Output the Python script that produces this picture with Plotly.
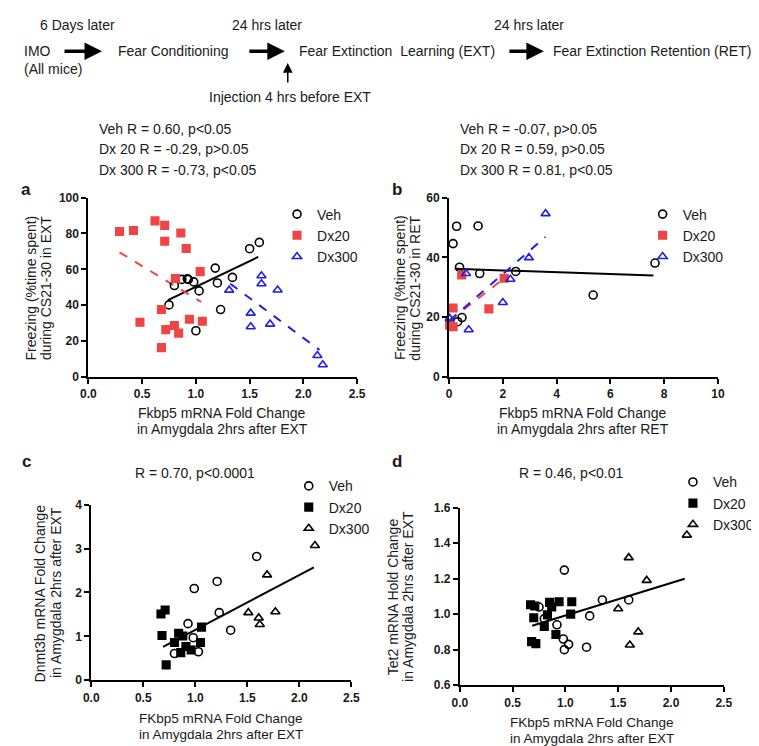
import plotly.graph_objects as go

W, H = 759, 746

# ---------------- data ----------------
# Panel a (EXT)
a_veh_x = [0.75, 0.80, 0.87, 0.92, 0.93, 0.98, 1.03, 1.00, 1.18, 1.20, 1.23, 1.34, 1.50, 1.59]
a_veh_y = [40.2, 51.0, 54.4, 54.7, 54.4, 53.0, 48.0, 25.8, 60.7, 52.4, 37.6, 55.5, 71.5, 75.0]
a_veh_fit_x = [0.74, 1.58]
a_veh_fit_y = [42.9, 66.9]
a_dx20_x = [0.29, 0.42, 0.62, 0.71, 0.71, 0.86, 0.91, 1.04, 0.81, 0.68, 0.48, 0.72, 0.80, 0.84, 0.94, 1.06, 0.68]
a_dx20_y = [81.1, 81.6, 87.0, 84.5, 75.6, 80.2, 71.6, 58.7, 54.9, 37.6, 30.5, 26.4, 28.7, 24.5, 32.2, 31.1, 16.4]
a_dx20_fit_x = [0.29, 1.05]
a_dx20_fit_y = [69.5, 41.8]
a_dx300_x = [1.31, 1.51, 1.51, 1.61, 1.61, 1.69, 1.76, 2.13, 2.18]
a_dx300_y = [48.4, 35.6, 28.0, 56.4, 52.0, 29.5, 48.5, 12.0, 6.9]
a_dx300_fit_x = [1.32, 2.15]
a_dx300_fit_y = [52.0, 15.1]

# Panel b (RET)
b_veh_x = [0.15, 0.28, 1.08, 0.39, 1.14, 2.48, 0.32, 0.48, 5.36, 7.66]
b_veh_y = [44.6, 50.4, 50.5, 36.7, 34.6, 35.3, 18.5, 19.9, 27.4, 38.1]
b_veh_fit_x = [0.21, 7.6]
b_veh_fit_y = [36.2, 33.9]
b_dx20_x = [0.15, 0.02, 0.15, 0.47, 1.48, 2.05]
b_dx20_y = [23.1, 17.3, 16.8, 34.1, 22.8, 33.0]
b_dx20_fit_x = [0.02, 2.15]
b_dx20_fit_y = [18.9, 33.7]
b_dx300_x = [0.02, 0.63, 0.73, 2.00, 2.28, 2.97, 3.59]
b_dx300_y = [19.6, 34.6, 15.8, 24.9, 32.7, 39.9, 54.6]
b_dx300_fit_x = [0.02, 3.58]
b_dx300_fit_y = [18.9, 46.8]

# Panel c (Dnmt3b)
c_veh_x = [0.80, 0.93, 0.99, 0.98, 1.03, 1.21, 1.23, 1.34, 1.59]
c_veh_y = [0.61, 1.29, 2.09, 0.97, 0.65, 2.25, 1.54, 1.14, 2.82]
c_dx20_x = [0.67, 0.71, 0.68, 0.72, 0.80, 0.84, 0.88, 0.86, 0.91, 0.96, 1.06, 1.05]
c_dx20_y = [1.51, 1.60, 1.02, 0.35, 0.86, 1.07, 1.01, 0.63, 0.77, 0.69, 1.21, 0.86]
c_dx300_x = [1.51, 1.61, 1.62, 1.69, 1.77, 2.15]
c_dx300_y = [1.54, 1.42, 1.27, 2.40, 1.56, 3.07]
c_fit_x = [0.69, 2.14]
c_fit_y = [0.76, 2.57]

# Panel d (Tet2)
d_veh_x = [0.75, 0.80, 0.92, 0.99, 0.98, 0.99, 1.03, 1.20, 1.23, 1.35, 1.60]
d_veh_y = [1.04, 0.974, 0.94, 1.248, 0.86, 0.80, 0.83, 0.814, 0.99, 1.08, 1.08]
d_dx20_x = [0.67, 0.71, 0.70, 0.68, 0.72, 0.80, 0.83, 0.85, 0.87, 0.91, 0.94, 1.06, 1.05]
d_dx20_y = [1.053, 1.046, 0.98, 0.845, 0.834, 0.93, 0.996, 1.066, 1.04, 0.885, 1.07, 1.07, 1.00]
d_dx300_x = [1.50, 1.60, 1.61, 1.69, 1.77, 2.15]
d_dx300_y = [1.03, 1.318, 0.826, 0.90, 1.19, 1.445]
d_fit_x = [0.685, 2.13]
d_fit_y = [0.935, 1.199]

x_ticks_ext = [0, 0.5, 1.0, 1.5, 2.0, 2.5]
x_ticktext_ext = ["0.0", "0.5", "1.0", "1.5", "2.0", "2.5"]
x_ticks_ret = [0, 2, 4, 6, 8, 10]
ya_ticks = [0, 20, 40, 60, 80, 100]
yb_ticks = [0, 20, 40, 60]
yc_ticks = [0, 1, 2, 3, 4]
yd_ticks = [0.6, 0.8, 1.0, 1.2, 1.4, 1.6]
yd_ticktext = ["0.6", "0.8", "1.0", "1.2", "1.4", "1.6"]
group_names = ["Veh", "Dx20", "Dx300"]

# ---------------- styling ----------------
FONT = "Arial, Liberation Sans, Helvetica, sans-serif"
TXT = "#1a1a1a"
RED = "#f04545"
BLUE = "#1f1fe6"


def px(x):
    return x / W


def py(y):
    return 1 - y / H


fig = go.Figure()


def add_points(x, y, xa, ya, symbol, color, name, legend, filled=False):
    fig.add_trace(go.Scatter(
        x=x, y=y, mode="markers", name=name, xaxis=xa, yaxis=ya, legend=legend,
        marker=dict(symbol=symbol, size=8 if not filled else 7.5,
                    color=color, line=dict(color=color, width=1.6)),
        cliponaxis=False,
    ))


def add_fit(x, y, xa, ya, color, dash="solid"):
    fig.add_trace(go.Scatter(
        x=x, y=y, mode="lines", xaxis=xa, yaxis=ya, showlegend=False,
        line=dict(color=color, width=2, dash=dash), hoverinfo="skip",
    ))


# Panel a
add_fit(a_veh_fit_x, a_veh_fit_y, "x", "y", "black")
add_fit(a_dx20_fit_x, a_dx20_fit_y, "x", "y", RED, "dash")
add_fit(a_dx300_fit_x, a_dx300_fit_y, "x", "y", BLUE, "dash")
add_points(a_veh_x, a_veh_y, "x", "y", "circle-open", "black", group_names[0], "legend")
add_points(a_dx20_x, a_dx20_y, "x", "y", "square", RED, group_names[1], "legend", True)
add_points(a_dx300_x, a_dx300_y, "x", "y", "triangle-up-open", BLUE, group_names[2], "legend")

# Panel b
add_fit(b_veh_fit_x, b_veh_fit_y, "x2", "y2", "black")
add_fit(b_dx20_fit_x, b_dx20_fit_y, "x2", "y2", RED, "dash")
add_fit(b_dx300_fit_x, b_dx300_fit_y, "x2", "y2", BLUE, "dash")
add_points(b_veh_x, b_veh_y, "x2", "y2", "circle-open", "black", group_names[0], "legend2")
add_points(b_dx20_x, b_dx20_y, "x2", "y2", "square", RED, group_names[1], "legend2", True)
add_points(b_dx300_x, b_dx300_y, "x2", "y2", "triangle-up-open", BLUE, group_names[2], "legend2")

# Panel c
add_fit(c_fit_x, c_fit_y, "x3", "y3", "black")
add_points(c_veh_x, c_veh_y, "x3", "y3", "circle-open", "black", group_names[0], "legend3")
add_points(c_dx20_x, c_dx20_y, "x3", "y3", "square", "black", group_names[1], "legend3", True)
add_points(c_dx300_x, c_dx300_y, "x3", "y3", "triangle-up-open", "black", group_names[2], "legend3")

# Panel d
add_fit(d_fit_x, d_fit_y, "x4", "y4", "black")
add_points(d_veh_x, d_veh_y, "x4", "y4", "circle-open", "black", group_names[0], "legend4")
add_points(d_dx20_x, d_dx20_y, "x4", "y4", "square", "black", group_names[1], "legend4", True)
add_points(d_dx300_x, d_dx300_y, "x4", "y4", "triangle-up-open", "black", group_names[2], "legend4")

axis_common = dict(showline=True, linecolor="black", linewidth=2, ticks="outside",
                   ticklen=5, tickwidth=2, tickcolor="black", showgrid=False,
                   zeroline=False, fixedrange=True,
                   tickfont=dict(family=FONT, size=12, color=TXT, weight="bold"))


def legend_cfg(left, top):
    return dict(x=px(left), y=py(top), xanchor="left", yanchor="top",
                bgcolor="rgba(0,0,0,0)", borderwidth=0, itemwidth=30,
                font=dict(family=FONT, size=14, color=TXT), tracegroupgap=0,
                itemclick=False, itemdoubleclick=False)


fig.update_layout(
    width=W, height=H, margin=dict(l=0, r=0, t=0, b=0),
    paper_bgcolor="white", plot_bgcolor="white",
    xaxis=dict(domain=[px(74), px(349)], range=[0, 2.5], anchor="y",
               tickvals=x_ticks_ext, ticktext=x_ticktext_ext, **axis_common),
    yaxis=dict(domain=[py(369), py(186)], range=[0, 100], anchor="x",
               tickvals=ya_ticks, **axis_common),
    xaxis2=dict(domain=[px(443), px(718)], range=[0, 10], anchor="y2",
                tickvals=x_ticks_ret, **axis_common),
    yaxis2=dict(domain=[py(369), py(186)], range=[0, 60], anchor="x2",
                tickvals=yb_ticks, **axis_common),
    xaxis3=dict(domain=[px(77), px(343)], range=[0, 2.5], anchor="y3",
                tickvals=x_ticks_ext, ticktext=x_ticktext_ext, **axis_common),
    yaxis3=dict(domain=[py(678), py(499)], range=[0, 4], anchor="x3",
                tickvals=yc_ticks, **axis_common),
    xaxis4=dict(domain=[px(454), px(724)], range=[0, 2.5], anchor="y4",
                tickvals=x_ticks_ext, ticktext=x_ticktext_ext, **axis_common),
    yaxis4=dict(domain=[py(683), py(502)], range=[0.6, 1.6], anchor="x4",
                tickvals=yd_ticks, ticktext=yd_ticktext, **axis_common),
    legend=legend_cfg(267, 187),
    legend2=legend_cfg(641, 187),
    legend3=legend_cfg(279, 464),
    legend4=legend_cfg(672, 460),
    showlegend=True,
)

ann = []


def text(x, y, s, size=14, anchor="left", bold=False, angle=0, yanchor="middle"):
    ann.append(dict(x=px(x), y=py(y), xref="paper", yref="paper", text=s,
                    showarrow=False, xanchor=anchor, yanchor=yanchor, textangle=angle,
                    font=dict(family=FONT, size=size, color=TXT,
                              weight="bold" if bold else "normal")))


def arrow(x0, y0, x1, y1, width=3.5, head=2, size=1.0):
    ann.append(dict(x=px(x1), y=py(y1), xref="paper", yref="paper",
                    ax=x0 - x1, ay=y0 - y1, axref="pixel", ayref="pixel",
                    text="", showarrow=True, arrowhead=head, arrowsize=size,
                    arrowwidth=width, arrowcolor="black", standoff=0, startstandoff=0))


# timeline
text(63, 10, "6 Days later", anchor="center")
text(257, 10, "24 hrs later", anchor="center")
text(525, 10, "24 hrs later", anchor="center")
text(6, 37, "IMO")
text(6, 55, "(All mice)")
arrow(49, 37, 88, 37)
text(102, 37, "Fear Conditioning")
arrow(238, 37, 275, 37)
text(287, 37, "Fear Extinction  Learning (EXT)")
arrow(504, 37, 540, 37)
text(547, 37, "Fear Extinction Retention (RET)")
arrow(278, 70, 278, 49, width=1.5, head=2, size=1.3)
text(280, 84, "Injection 4 hrs before EXT", anchor="center")

# stats
text(83, 116, "Veh R = 0.60, p<0.05")
text(83, 137, "Dx 20 R = -0.29, p>0.05")
text(83, 158, "Dx 300 R = -0.73, p<0.05")
text(452, 116, "Veh R = -0.07, p>0.05")
text(452, 137, "Dx 20 R = 0.59, p>0.05")
text(452, 158, "Dx 300 R = 0.81, p<0.05")

# panel labels
text(3, 178, "a", size=17, bold=True)
text(383, 178, "b", size=17, bold=True)
text(4, 455, "c", size=17, bold=True)
text(383, 455, "d", size=17, bold=True)

# panel a/b axis titles
text(15, 278, "Freezing (%time spent)", angle=-90, anchor="center")
text(30, 278, "during CS21-30 in EXT", angle=-90, anchor="center")
text(211, 406, "Fkbp5 mRNA Fold Change", anchor="center")
text(211, 422, "in Amygdala 2hrs after EXT", anchor="center")
text(393, 278, "Freezing (%time spent)", angle=-90, anchor="center")
text(408, 278, "during CS21-30 in RET", angle=-90, anchor="center")
text(580, 406, "Fkbp5 mRNA Fold Change", anchor="center")
text(580, 422, "in Amygdala 2hrs after RET", anchor="center")

# panel c/d
text(183, 467, "R = 0.70, p<0.0001", anchor="center")
text(25, 589, "Dnmt3b mRNA Fold Change", angle=-90, anchor="center")
text(41, 589, "in Amygdala 2hrs after EXT", angle=-90, anchor="center")
text(210, 717, "FKbp5 mRNA Fold Change", size=13.5, anchor="center")
text(210, 733, "in Amygdala 2hrs after EXT", size=13.5, anchor="center")

text(568, 467, "R = 0.46, p<0.01", anchor="center")
text(386, 593, "Tet2 mRNA Hold Change", angle=-90, anchor="center")
text(401, 593, "in Amygdala 2hrs after EXT", angle=-90, anchor="center")
text(589, 721, "FKbp5 mRNA Fold Change", size=13.5, anchor="center")
text(589, 737, "in Amygdala 2hrs after EXT", size=13.5, anchor="center")

fig.update_layout(annotations=ann)

fig.write_html("out.html")
